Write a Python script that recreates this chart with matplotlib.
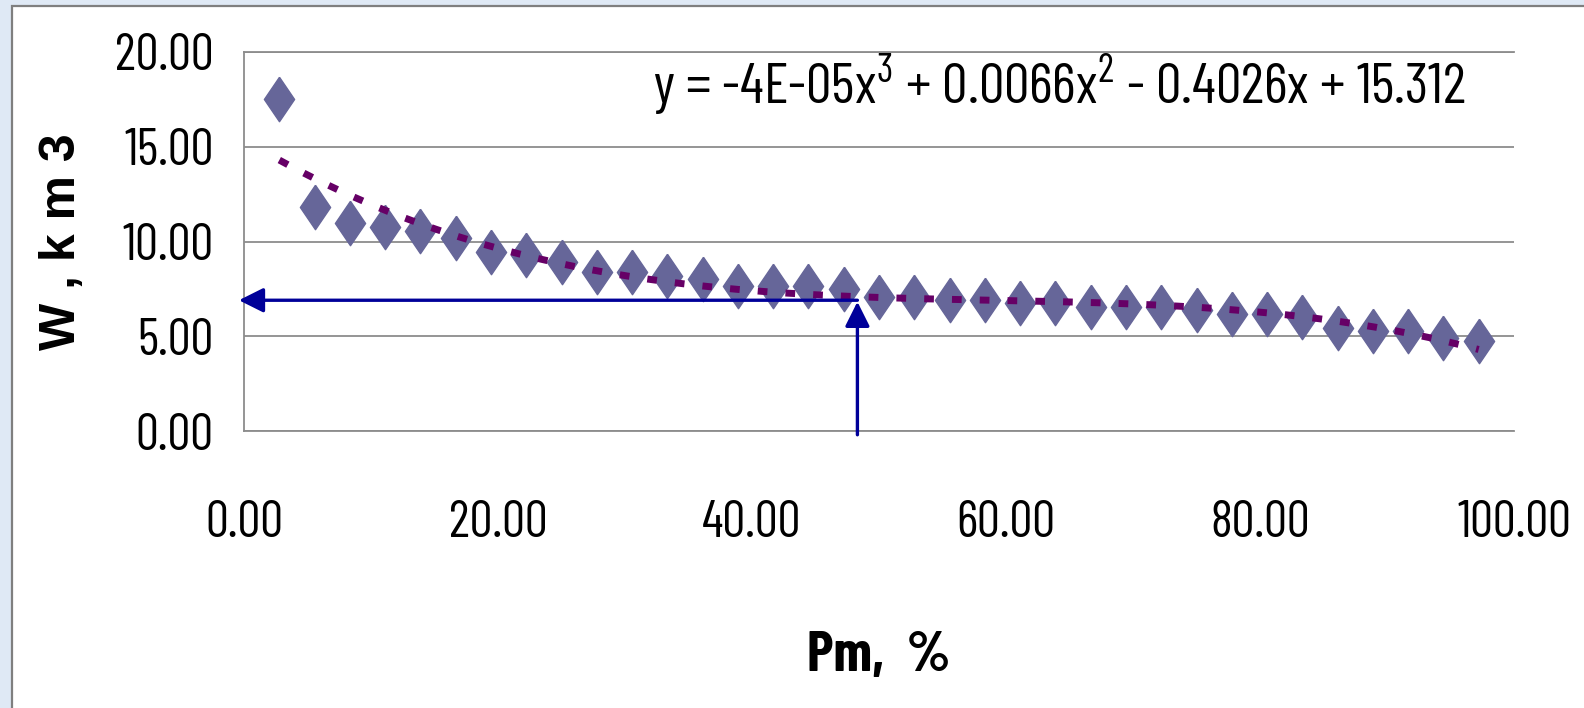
import matplotlib

matplotlib.use("Agg")
import matplotlib.pyplot as plt
import numpy as np
from matplotlib.patches import Rectangle

# values
PM = [2.78, 5.56, 8.33, 11.11, 13.89, 16.67, 19.44, 22.22, 25.00, 27.78,
      30.56, 33.33, 36.11, 38.89, 41.67, 44.44, 47.22, 50.00, 52.78, 55.56,
      58.33, 61.11, 63.89, 66.67, 69.44, 72.22, 75.00, 77.78, 80.56, 83.33,
      86.11, 88.89, 91.67, 94.44, 97.22]
W = [17.50, 11.84, 10.99, 10.75, 10.57, 10.20, 9.46, 9.29, 8.92, 8.37,
     8.37, 8.20, 8.02, 7.63, 7.63, 7.65, 7.47, 7.09, 7.09, 6.91,
     6.91, 6.74, 6.74, 6.56, 6.56, 6.56, 6.39, 6.19, 6.19, 6.02,
     5.45, 5.28, 5.28, 4.91, 4.73]
X_TICKS = [0, 20, 40, 60, 80, 100]
Y_TICKS = [0, 5, 10, 15, 20]
EQUATION = (r"y = -4E-05x$^{\mathdefault{3}}$ + 0.0066x$^{\mathdefault{2}}$"
            r" - 0.4026x + 15.312")

# reading arrows (Pm ~48.3 %, W ~6.9 km3)
ARROW_PM = 48.3
ARROW_W = 6.9

MARKER = "#666699"
TREND = "#660066"
NAVY = "#000099"
GRID = "#8c8c8c"
NARROW = ["Barlow Condensed", "Liberation Sans Narrow", "DejaVu Sans"]
BOLD = ["Liberation Sans", "DejaVu Sans"]

fig = plt.figure(figsize=(15.84, 7.08), dpi=100, facecolor="#dfe9f5")
# white chart area with a thin grey frame on top/left
fig.add_artist(Rectangle((12 / 1584, -0.05), 1.1, 1 - 6 / 708 + 0.05,
                         transform=fig.transFigure, facecolor="white",
                         edgecolor="#7f7f7f", linewidth=1.6, zorder=-5))

ax = fig.add_axes([244 / 1584, 1 - 431 / 708, 1270 / 1584, 379 / 708])
ax.set_facecolor("white")

diamond = [(0, 1), (0.68, 0), (0, -1), (-0.68, 0), (0, 1)]
ax.plot(PM, W, linestyle="none", marker=diamond, markersize=32,
        markerfacecolor=MARKER, markeredgecolor=MARKER, zorder=3)

# cubic trendline fitted to the points
coef = np.polyfit(PM, W, 3)
xs = np.linspace(PM[0], PM[-1], 200)
ax.plot(xs, np.polyval(coef, xs), color=TREND, linewidth=5,
        linestyle=(0, (1.4, 2.6)), dash_capstyle="butt", zorder=4)

arrow = dict(arrowstyle="-|>,head_length=0.5,head_width=0.25", color=NAVY,
             lw=2.4, mutation_scale=30, shrinkA=0, shrinkB=0)
ax.annotate("", xy=(-0.4, ARROW_W), xytext=(ARROW_PM, ARROW_W),
            arrowprops=arrow, annotation_clip=False, zorder=5)
ax.annotate("", xy=(ARROW_PM, ARROW_W - 0.08), xytext=(ARROW_PM, -0.2),
            arrowprops=arrow, annotation_clip=False, zorder=5)

ax.text(0.322, 0.863, EQUATION, transform=ax.transAxes, ha="left",
        va="baseline", fontsize=41, family=NARROW)

ax.set_xlim(0, 100)
ax.set_ylim(0, 20)
ax.set_xticks(X_TICKS)
ax.set_yticks(Y_TICKS)
ax.set_xticklabels([f"{v:.2f}" for v in X_TICKS], family=NARROW, fontsize=37)
ax.set_yticklabels([f"{v:.2f}" for v in Y_TICKS], family=NARROW, fontsize=37)
ax.tick_params(axis="both", length=0)
ax.tick_params(axis="x", pad=50)
ax.tick_params(axis="y", pad=22)

ax.grid(axis="y", color=GRID, linewidth=1.3)
ax.set_axisbelow(True)
ax.spines["right"].set_visible(False)
for side in ["left", "bottom", "top"]:
    ax.spines[side].set_color(GRID)
    ax.spines[side].set_linewidth(1.3)

ax.set_xlabel("Pm,  %", family=NARROW, fontweight="bold", fontsize=41)
ax.xaxis.set_label_coords(0.5, -0.594)
ax.xaxis.label.set_va("center")
ax.set_ylabel("W , k m 3", family=BOLD, fontweight="bold", fontsize=36)
ax.yaxis.set_label_coords(-0.1433, 0.5)
ax.yaxis.label.set_va("center")

fig.savefig("out.png", dpi=100, facecolor=fig.get_facecolor())
